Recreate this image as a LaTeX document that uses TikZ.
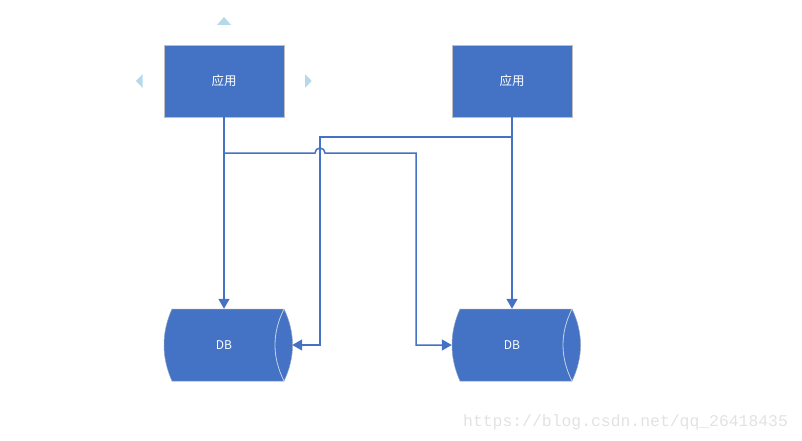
\documentclass[tikz,border=0pt]{standalone}
\usepackage{fontspec}
\newfontfamily\cjk{Noto Sans CJK SC}
\newfontfamily\wmfont{Liberation Mono}
\usetikzlibrary{arrows.meta}
\definecolor{bluefill}{RGB}{68,114,196}
\definecolor{boxedge}{RGB}{190,190,190}
\definecolor{handle}{RGB}{180,218,234}
\definecolor{wm}{RGB}{226,226,226}
\definecolor{inner}{RGB}{200,210,225}
\begin{document}
\begin{tikzpicture}[x=1pt,y=1pt,
  appbox/.style={draw=boxedge,line width=0.8pt,fill=bluefill,minimum width=120pt,minimum height=72pt,inner sep=0pt,text=white,font=\cjk\fontsize{12.5}{14}\selectfont},
  dbnode/.style={minimum width=128pt,minimum height=72pt,inner sep=0pt},
  dbtext/.style={inner sep=0pt,text=white,font=\cjk\fontsize{12}{14}\selectfont},
  dbbody/.style={fill=bluefill,draw=boxedge!60!bluefill,line width=0.5pt},
  dbinner/.style={draw=inner,line width=0.8pt},
  conn/.style={draw=bluefill,line width=1.5pt},
  arr/.style={conn,-{Triangle[length=10pt,width=11pt]}},
  handletri/.style={fill=handle,draw=none}]
\useasboundingbox (0,0) rectangle (802,440);
% DB geometry nodes
\node[dbnode] (db1) at (228,95) {};
\node[dbnode] (db2) at (516,95) {};
% DB shapes
\path[dbbody] (172,131) .. controls (161.33,107) and (161.33,83) .. (172,59) -- (284,59)
  .. controls (295.33,83) and (295.33,107) .. (284,131) -- cycle;
\path[dbinner] (284,131) .. controls (272,107) and (272,83) .. (284,59);
\path[dbbody] (460,131) .. controls (449.33,107) and (449.33,83) .. (460,59) -- (572,59)
  .. controls (583.33,83) and (583.33,107) .. (572,131) -- cycle;
\path[dbinner] (572,131) .. controls (560,107) and (560,83) .. (572,59);
\node[dbtext] (db1t) at ([xshift=-4pt]db1.center) {DB};
\node[dbtext] (db2t) at ([xshift=-4pt]db2.center) {DB};
% application boxes
\node[appbox] (b1) at (224,359) {应用};
\node[appbox] (b2) at (512,359) {应用};
% selection handles
\path[handletri] (224,423) -- (231,415) -- (217,415) -- cycle;
\path[handletri] (136,359) -- (142.7,366) -- (142.7,352) -- cycle;
\path[handletri] (311.7,359) -- (305,366) -- (305,352) -- cycle;
% connectors
\coordinate (j1) at (224,287);
\coordinate (j2) at (512,303);
\draw[arr] (b1.south) -- (b1.south |- db1.north);
\draw[arr] (b2.south) -- (b2.south |- db2.north);
\draw[arr] (j1) -- (315,287) arc[start angle=180,end angle=0,radius=5] -- (416,287) |- (db2.west);
\draw[arr] (j2) -- (320,303) |- (db1.east);
% watermark
\node[anchor=base west,inner sep=0pt,text=wm,font=\wmfont\fontsize{16.4}{18}\selectfont] (wmk) at (463,14) {https://blog.csdn.net/qq\_26418435};
\end{tikzpicture}
\end{document}
